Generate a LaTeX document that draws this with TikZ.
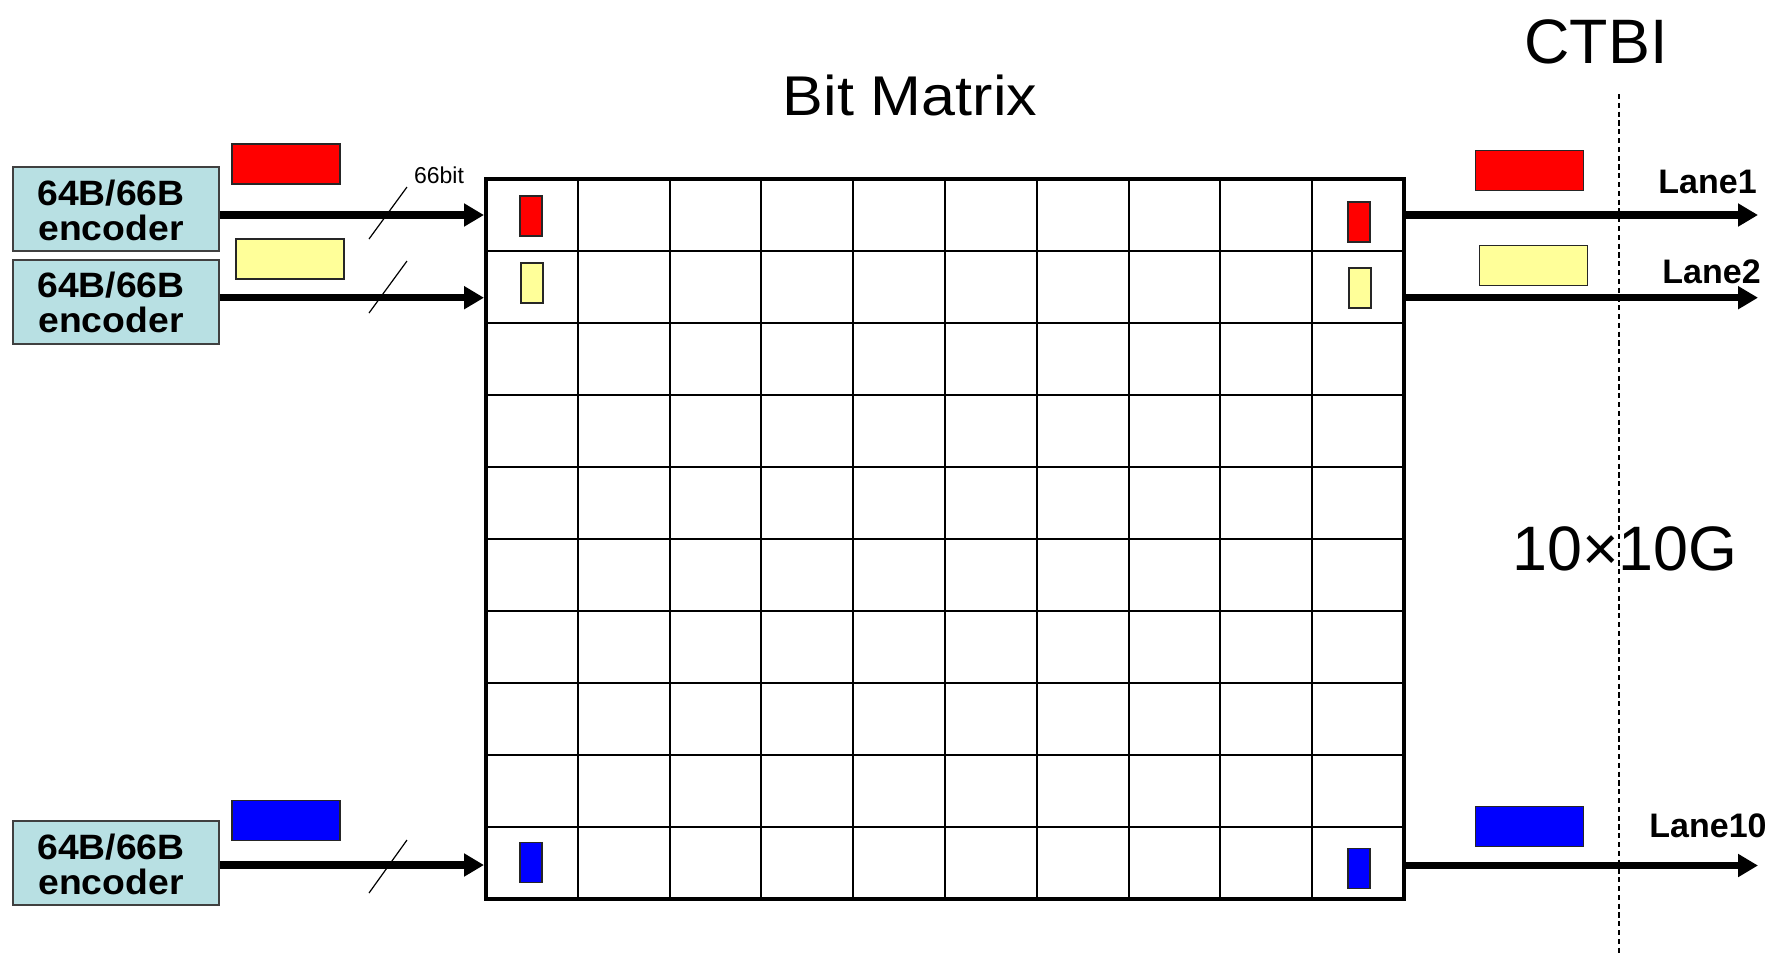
\documentclass[tikz,border=0pt]{standalone}
\usepackage{fontspec}
\setmainfont{Liberation Sans}
\usetikzlibrary{arrows.meta}
\definecolor{encfill}{HTML}{B8E0E3}
\definecolor{ylw}{HTML}{FFFF99}
\definecolor{redf}{HTML}{FF0000}
\definecolor{bluef}{HTML}{0000FF}
\newcommand{\wide}[2]{\scalebox{#1}[1]{#2}}
\begin{document}
\begin{tikzpicture}[x=0.5pt,y=-0.5pt,
 enc/.style={draw=black!75, line width=0.8pt, fill=encfill, minimum width=103pt, minimum height=42pt, inner sep=0pt},
 enctext/.style={inner sep=0pt, align=center, font=\fontsize{17.6}{17.5}\selectfont\bfseries},
 pkt/.style={draw=black!85, line width=0.8pt, minimum width=54pt, minimum height=20pt, inner sep=0pt},
 bitbox/.style={draw=black!85, line width=0.7pt, minimum width=11pt, minimum height=20pt, inner sep=0pt},
 arr/.style={line width=3.6pt, -{Triangle[length=10pt,width=11pt]}},
 slash/.style={line width=0.6pt},
 lane/.style={anchor=base west, inner sep=0pt, font=\fontsize{17}{18}\selectfont\bfseries},
 big/.style={anchor=base, inner sep=0pt, font=\fontsize{31.4}{34}\selectfont},
 cell/.style={line width=1pt}
]
\useasboundingbox (0,0) rectangle (1773,955);

% encoders
\node[enc] (enc1) at (116,209) {};
\node[enc] (enc2) at (116,301.7) {};
\node[enc] (enc3) at (116,863) {};
\foreach \e in {enc1,enc2,enc3}
  \node[enctext] at ([xshift=-2.5pt,yshift=-0.5pt]\e.center) {\wide{1.06}{64B/66B}\\\wide{1.06}{encoder}};

% grid
\node[draw, line width=2pt, minimum width=459pt, minimum height=360pt, inner sep=0pt] (grid) at (945,539) {};
\foreach \i in {1,...,9} {
  \draw[cell] ({486+\i*91.8},179) -- ({486+\i*91.8},899);
  \draw[cell] (486,{179+\i*72}) -- (1404,{179+\i*72});
}
\node[draw, line width=2pt, minimum width=459pt, minimum height=360pt, inner sep=0pt] at (grid) {};

% title texts
\node[anchor=base, inner sep=0pt, font=\fontsize{28}{30}\selectfont] (title) at (910,115) {\wide{1.09}{Bit Matrix}};
\node[big] (ctbi) at (1596,63) {CTBI};
\node[big] (rate) at (1625,570) {10×10G};
\node[anchor=base, inner sep=0pt, font=\fontsize{11.5}{13}\selectfont] (bits) at (439,183) {66bit};

% packets left
\node[pkt, fill=redf] (pl1) at (286,164) {};
\node[pkt, fill=ylw] (pl2) at (290,259) {};
\node[pkt, fill=bluef] (pl3) at (286,820.5) {};
% packets right
\node[pkt, fill=redf] (pr1) at (1529.5,170.4) {};
\node[pkt, fill=ylw] (pr2) at (1533.5,265.4) {};
\node[pkt, fill=bluef] (pr3) at (1529.5,826.4) {};

% bits in grid
\node[bitbox, fill=redf] (bl1) at (531,216) {};
\node[bitbox, fill=ylw] (bl2) at (532,283) {};
\node[bitbox, fill=bluef] (bl3) at (531,862.5) {};
\node[bitbox, fill=redf] (br1) at (1359,222) {};
\node[bitbox, fill=ylw] (br2) at (1360,288) {};
\node[bitbox, fill=bluef] (br3) at (1359,868.5) {};

% dashed CTBI line
\coordinate (ctop) at (1619,94);
\coordinate (cbot) at (1619,955);
\draw[line width=0.75pt, dash pattern=on 2.6pt off 1.8pt] (ctop) -- (cbot);

% input arrows
\draw[arr] (enc1.east |- 0,215) -- (grid.west |- 0,215);
\draw[arr] (enc2.east |- 0,297.7) -- (grid.west |- 0,297.7);
\draw[arr] (enc3.east |- 0,865) -- (grid.west |- 0,865);

% output arrows
\coordinate (o1) at (1758,215);
\coordinate (o2) at (1758,297.7);
\coordinate (o3) at (1758,865.5);
\draw[arr] (grid.east |- o1) -- (o1);
\draw[arr] (grid.east |- o2) -- (o2);
\draw[arr] (grid.east |- o3) -- (o3);

% slashes
\coordinate (s1a) at (369,239); \coordinate (s1b) at (407,187);
\coordinate (s2a) at (369,313); \coordinate (s2b) at (407,261);
\coordinate (s3a) at (369,893); \coordinate (s3b) at (407,840);
\draw[slash] (s1a) -- (s1b);
\draw[slash] (s2a) -- (s2b);
\draw[slash] (s3a) -- (s3b);

% lane labels
\node[lane] (l1) at (1658,193) {Lane1};
\node[lane] (l2) at (1662,283) {Lane2};
\node[lane] (l3) at (1649,837) {Lane10};
\end{tikzpicture}
\end{document}
